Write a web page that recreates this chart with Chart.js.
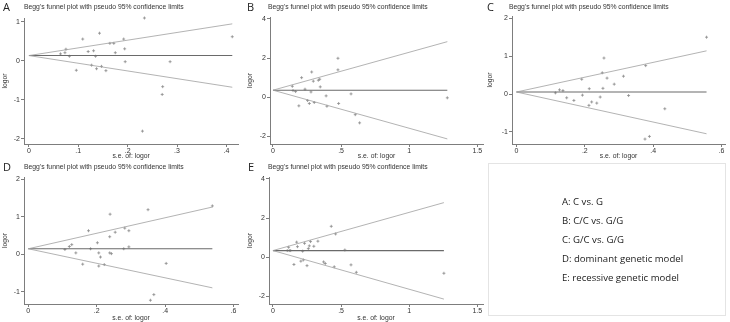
<!DOCTYPE html>
<html>
<head>
<meta charset="utf-8">
<script src="https://cdn.jsdelivr.net/npm/chart.js@4.4.1/dist/chart.umd.min.js"></script>
<style>
  body { margin: 0; background: #fff; }
  #wrap { position: relative; width: 730px; height: 322px; overflow: hidden; }
  canvas { position: absolute; }
  .ttl { position: absolute; font: 6.8px "Liberation Sans", Arial, sans-serif; color: #333; white-space: nowrap; }
  .let { position: absolute; font: 11px "Open Sans", sans-serif; color: #222; }
  #key { position: absolute; left: 488px; top: 163px; width: 238px; height: 153px; border: 1px solid #e4e4e4; box-sizing: border-box; }
  #key div { position: absolute; left: 73px; font: 9.6px "Open Sans", sans-serif; color: #222; white-space: nowrap; }
</style>
</head>
<body>
<div id="wrap">
  <canvas id="cA" width="243" height="160" style="left:0;top:0"></canvas>
  <canvas id="cB" width="243" height="160" style="left:245px;top:0"></canvas>
  <canvas id="cC" width="245" height="160" style="left:485px;top:0"></canvas>
  <canvas id="cD" width="243" height="162" style="left:0;top:160px"></canvas>
  <canvas id="cE" width="243" height="162" style="left:245px;top:160px"></canvas>

  <div class="let" style="left:3px;top:-1px">A</div>
  <div class="let" style="left:247px;top:-1px">B</div>
  <div class="let" style="left:487px;top:-1px">C</div>
  <div class="let" style="left:3px;top:159px">D</div>
  <div class="let" style="left:248px;top:159px">E</div>

  <div class="ttl" style="left:24px;top:3px">Begg's funnel plot with pseudo 95% confidence limits</div>
  <div class="ttl" style="left:268px;top:3px">Begg's funnel plot with pseudo 95% confidence limits</div>
  <div class="ttl" style="left:509px;top:3px">Begg's funnel plot with pseudo 95% confidence limits</div>
  <div class="ttl" style="left:24px;top:163px">Begg's funnel plot with pseudo 95% confidence limits</div>
  <div class="ttl" style="left:268px;top:163px">Begg's funnel plot with pseudo 95% confidence limits</div>

  <div id="key">
    <div style="top:31px">A: C vs. G</div>
    <div style="top:50px">B: C/C vs. G/G</div>
    <div style="top:69px">C: G/C vs. G/G</div>
    <div style="top:88px">D: dominant genetic model</div>
    <div style="top:107px">E: recessive genetic model</div>
  </div>
</div>
<script>
// A: C vs. G
const aSe    = [0.064,0.073,0.075,0.082,0.096,0.109,0.120,0.127,0.131,0.135,0.137,0.143,0.147,0.156,0.164,0.172,0.175,0.192,0.194,0.195,0.234,0.230,0.271,0.270,0.286,0.412];
const aLogor = [0.18,0.21,0.30,0.12,-0.24,0.56,0.24,-0.11,0.26,0.12,-0.20,0.71,-0.14,-0.25,0.45,0.45,0.21,0.56,0.31,-0.02,1.10,-1.80,-0.66,-0.86,-0.02,0.62];
const aLimSe = [0, 0.412];
const aEst   = [0.137, 0.137];
const aUpper = [0.137, 0.95];
const aLower = [0.137, -0.675];
const aXTicks = [0, 0.1, 0.2, 0.3, 0.4];
const aYTicks = [-2, -1, 0, 1];

// B: C/C vs. G/G
const bSe    = [0.142,0.147,0.166,0.21,0.19,0.235,0.254,0.267,0.279,0.284,0.296,0.303,0.333,0.343,0.347,0.39,0.396,0.477,0.477,0.482,0.573,0.604,0.636,1.28];
const bLogor = [0.56,0.34,0.29,1.0,-0.44,0.41,-0.17,-0.32,0.27,1.29,0.82,-0.27,0.87,0.92,0.53,0.07,-0.46,1.99,1.40,-0.32,0.17,-0.89,-1.31,-0.03];
const bLimSe = [0, 1.28];
const bEst   = [0.36, 0.36];
const bUpper = [0.36, 2.84];
const bLower = [0.36, -2.13];
const bXTicks = [0, 0.5, 1, 1.5];
const bYTicks = [-2, 0, 2, 4];

// C: G/C vs. G/G
const cSe    = [0.114,0.126,0.136,0.147,0.168,0.191,0.193,0.213,0.212,0.22,0.235,0.245,0.251,0.253,0.256,0.265,0.286,0.313,0.328,0.378,0.376,0.389,0.434,0.556];
const cLogor = [0.03,0.11,0.09,-0.10,-0.17,0.39,-0.03,0.14,-0.30,-0.21,-0.24,-0.08,0.56,0.15,0.95,0.42,0.26,0.47,-0.04,0.75,-1.19,-1.12,-0.39,1.50];
const cLimSe = [0, 0.556];
const cEst   = [0.053, 0.053];
const cUpper = [0.053, 1.14];
const cLower = [0.053, -1.05];
const cXTicks = [0, 0.2, 0.4, 0.6];
const cYTicks = [-1, 0, 1, 2];

// D: dominant model
const dSe    = [0.107,0.12,0.127,0.139,0.159,0.176,0.182,0.202,0.206,0.206,0.211,0.222,0.238,0.238,0.239,0.243,0.254,0.279,0.282,0.294,0.294,0.35,0.357,0.367,0.403,0.538];
const dLogor = [0.13,0.21,0.26,0.04,-0.26,0.63,0.15,0.31,0.04,-0.31,-0.07,-0.27,0.47,0.04,1.07,0.02,0.59,0.15,0.70,0.63,0.20,1.19,-1.22,-1.07,-0.24,1.29];
const dLimSe = [0, 0.538];
const dEst   = [0.15, 0.15];
const dUpper = [0.15, 1.26];
const dLower = [0.15, -0.89];
const dXTicks = [0, 0.2, 0.4, 0.6];
const dYTicks = [-1, 0, 1, 2];

// E: recessive model
const eSe    = [0.105,0.115,0.12,0.13,0.154,0.174,0.18,0.205,0.218,0.223,0.232,0.25,0.26,0.267,0.276,0.30,0.33,0.372,0.384,0.428,0.45,0.46,0.528,0.573,0.612,1.255];
const eLogor = [0.34,0.51,0.34,0.34,-0.37,0.77,0.54,-0.20,0.31,-0.14,0.71,-0.43,0.44,0.58,0.80,0.56,0.82,-0.24,-0.32,1.58,-0.49,1.19,0.37,-0.39,-0.77,-0.82];
const eLimSe = [0, 1.255];
const eEst   = [0.34, 0.34];
const eUpper = [0.34, 2.79];
const eLower = [0.34, -2.14];
const eXTicks = [0, 0.5, 1, 1.5];
const eYTicks = [-2, 0, 2, 4];

// stata style labels: .5 instead of 0.5
const fmt = v => (v < 0 ? '-' : '') + String(Math.abs(v)).replace(/^0\./, '.');
const tickFont = {family: 'Liberation Sans', size: 7};
const titleFont = {family: 'Liberation Sans', size: 6.8};
const axisCol = '#7d7d7d';
const pts = (xs, ys) => xs.map((x, i) => ({x: x, y: ys[i]}));

function funnel(id, se, logor, limSe, est, upper, lower, xTicks, yTicks, box) {
    const cv = document.getElementById(id);
    new Chart(cv, {
        type: 'scatter',
        data: {
            datasets: [
                {data: pts(limSe, upper), type: 'line', borderColor: '#a0a0a0', borderWidth: 0.8, pointRadius: 0},
                {data: pts(limSe, lower), type: 'line', borderColor: '#a0a0a0', borderWidth: 0.8, pointRadius: 0},
                {data: pts(limSe, est),   type: 'line', borderColor: '#6a6a6a', borderWidth: 1.1, pointRadius: 0},
                {data: pts(se, logor), pointStyle: 'cross', pointRadius: 1.5, borderColor: '#8a8a8a', borderWidth: 0.8, clip: false}
            ]
        },
        options: {
            responsive: false,
            animation: false,
            events: [],
            layout: {padding: {top: box.top, right: cv.width - box.right, left: 0, bottom: 0}},
            plugins: {legend: {display: false}, tooltip: {enabled: false}},
            scales: {
                x: {
                    type: 'linear', min: box.x[0], max: box.x[1],
                    afterFit: s => { s.height = cv.height - box.bottom; },
                    afterBuildTicks: s => { s.ticks = xTicks.map(v => ({value: v})); },
                    grid: {drawOnChartArea: false, tickLength: 3, color: axisCol},
                    border: {color: axisCol},
                    ticks: {callback: v => fmt(v), font: tickFont, color: '#333', padding: 0, maxRotation: 0, autoSkip: false},
                    title: {display: true, text: 's.e. of: logor', font: titleFont, color: '#333', padding: {top: 0, bottom: 0}}
                },
                y: {
                    type: 'linear', min: box.y[0], max: box.y[1],
                    afterFit: s => { s.width = box.left; },
                    afterBuildTicks: s => { s.ticks = yTicks.map(v => ({value: v})); },
                    grid: {drawOnChartArea: false, tickLength: 3, color: axisCol},
                    border: {color: axisCol},
                    ticks: {callback: v => fmt(v), font: tickFont, color: '#333', padding: 1, autoSkip: false},
                    title: {display: true, text: 'logor', font: titleFont, color: '#333', padding: {top: 1, bottom: 0}}
                }
            }
        }
    });
}

funnel('cA', aSe, aLogor, aLimSe, aEst, aUpper, aLower, aXTicks, aYTicks,
    {left: 24, right: 240, top: 18, bottom: 144, x: [-0.01, 0.424], y: [-2.13, 1.10]});
funnel('cB', bSe, bLogor, bLimSe, bEst, bUpper, bLower, bXTicks, bYTicks,
    {left: 25, right: 238, top: 17, bottom: 144, x: [-0.022, 1.542], y: [-2.39, 4.10]});
funnel('cC', cSe, cLogor, cLimSe, cEst, cUpper, cLower, cXTicks, cYTicks,
    {left: 27, right: 240, top: 16, bottom: 144, x: [-0.013, 0.61], y: [-1.32, 2.06]});
funnel('cD', dSe, dLogor, dLimSe, dEst, dUpper, dLower, dXTicks, dYTicks,
    {left: 24, right: 238, top: 17, bottom: 144, x: [-0.0126, 0.613], y: [-1.32, 2.06]});
funnel('cE', eSe, eLogor, eLimSe, eEst, eUpper, eLower, eXTicks, eYTicks,
    {left: 24, right: 238, top: 17, bottom: 144, x: [-0.029, 1.542], y: [-2.39, 4.10]});
</script>
</body>
</html>
